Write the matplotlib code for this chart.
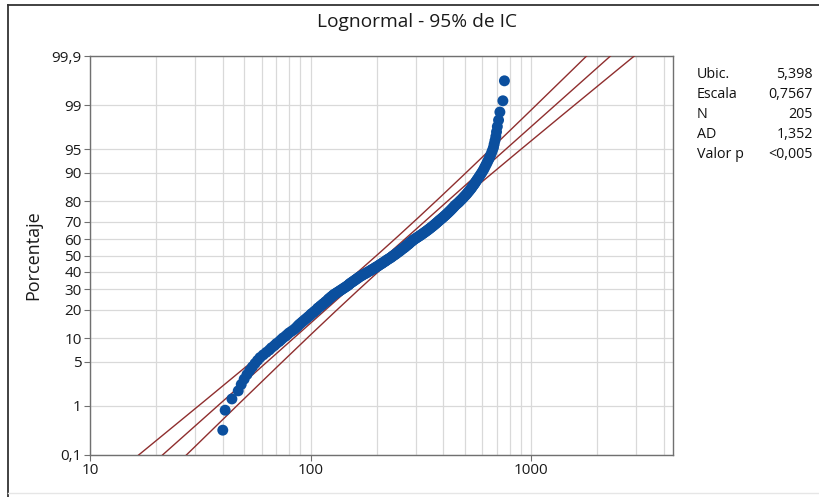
import numpy as np
import matplotlib
matplotlib.use("Agg")
import matplotlib.pyplot as plt
from matplotlib.lines import Line2D
from statistics import NormalDist

plt.rcParams['font.family'] = ['Open Sans', 'DejaVu Sans']

# sorted sample values (205 points)
datos = [
    40, 41, 44, 47, 48.5, 50, 51.5, 53, 54.5, 56,
    57.5, 59, 61, 63, 65, 66.5, 68.5, 70, 72, 73.5,
    75, 77, 78.5, 80, 82, 84, 85.5, 87, 88, 89.5,
    91, 92.5, 94, 95.5, 97, 98.5, 100, 101, 103, 104,
    106, 107, 108, 110, 111, 113, 114, 116, 117, 119,
    120, 121, 123, 124, 126, 127, 129, 131, 133, 135,
    137, 139, 141, 143, 145, 147, 149, 150, 152, 154,
    156, 158, 160, 162, 164, 166, 168, 171, 173, 176,
    179, 181, 184, 187, 189, 192, 195, 197, 200, 203,
    205, 208, 211, 213, 216, 219, 221, 224, 227, 230,
    233, 235, 238, 241, 244, 246, 249, 252, 255, 257,
    260, 263, 266, 269, 271, 274, 277, 280, 282, 285,
    288, 291, 294, 298, 302, 306, 310, 314, 318, 322,
    326, 330, 334, 338, 342, 346, 350, 354, 358, 362,
    366, 370, 374, 378, 382, 386, 391, 395, 400, 404,
    409, 413, 418, 422, 427, 431, 436, 440, 445, 449,
    454, 460, 466, 472, 477, 483, 489, 494, 500, 506,
    512, 517, 523, 529, 535, 540, 546, 552, 558, 563,
    569, 576, 582, 589, 596, 603, 610, 616, 623, 630,
    637, 645, 652, 660, 667, 675, 680, 686, 692, 697,
    703, 712, 722, 745, 757,
]

ubic = 5.398
escala = 0.7567
n = 205
ad = "1,352"
valor_p = "<0,005"

pct_ticks = [0.1, 1, 5, 10, 20, 30, 40, 50, 60, 70, 80, 90, 95, 99, 99.9]
pct_labels = ["0,1", "1", "5", "10", "20", "30", "40", "50", "60", "70",
              "80", "90", "95", "99", "99,9"]

nd = NormalDist()
rangos = np.arange(1, len(datos) + 1)
prob = (rangos - 0.3) / (len(datos) + 0.4)   # rangos medianos (Benard)
z_pts = [nd.inv_cdf(p) for p in prob]

fig = plt.figure(figsize=(8.2, 4.97), dpi=100)
ax = fig.add_axes([90 / 820, 1 - 455 / 497, 583 / 820, 399 / 497])

z_lo, z_hi = nd.inv_cdf(0.001), nd.inv_cdf(0.999)

# ajuste y bandas de confianza del 95%
zz = np.linspace(z_lo - 0.05, z_hi + 0.05, 200)
centro = ubic + zz * escala
se = escala * np.sqrt((1 + zz ** 2 / 2) / n)
rojo = '#8f2e2e'
ax.plot(np.exp(centro), zz, color=rojo, lw=1.0, zorder=3)
ax.plot(np.exp(centro - 1.96 * se), zz, color=rojo, lw=1.0, zorder=3)
ax.plot(np.exp(centro + 1.96 * se), zz, color=rojo, lw=1.0, zorder=3)

ax.scatter(datos, z_pts, s=62, color='#0b4f9e', edgecolors='none', zorder=4)

ax.set_xscale('log')
ax.set_xlim(10, 4400)
ax.set_ylim(z_lo, z_hi)

ax.set_xticks([10, 100, 1000])
ax.set_xticklabels(["10", "100", "1000"])
menores = [v * d for d in (10, 100, 1000) for v in range(2, 10) if v * d < 4400]
ax.set_xticks(menores, minor=True)
ax.set_yticks([nd.inv_cdf(p / 100) for p in pct_ticks])
ax.set_yticklabels(pct_labels)

ax.grid(True, which='both', color='#d9d9d9', lw=0.9, zorder=0)
ax.set_axisbelow(True)
ax.tick_params(axis='both', which='major', length=4, width=0.8, color='#707070',
               labelsize=11, labelcolor='#1a1a1a', pad=2)
ax.tick_params(axis='x', which='minor', length=0)
for s in ax.spines.values():
    s.set_color('#707070')
    s.set_linewidth(1.0)

fig.text(417 / 820, 1 - 22 / 497, "Lognormal - 95% de IC", ha='center', va='center',
         fontsize=13.8, color='#1a1a1a')
fig.text(33 / 820, 1 - 255 / 497, "Porcentaje", rotation=90, ha='center', va='center',
         fontsize=13, color='#1a1a1a')

# tabla de estadísticos
etiquetas = ["Ubic.", "Escala", "N", "AD", "Valor p"]
valores = [f"{ubic:.3f}".replace(".", ","), f"{escala:.4f}".replace(".", ","),
           str(n), ad, valor_p]
for k, (et, va) in enumerate(zip(etiquetas, valores)):
    yy = 1 - (75 + 20 * k) / 497
    fig.text(697 / 820, yy, et, ha='left', va='center', fontsize=10.3, color='#111111')
    fig.text(813 / 820, yy, va, ha='right', va='center', fontsize=10.3, color='#111111')

# marco exterior (el borde derecho queda fuera de la captura)
fig.add_artist(Line2D([8 / 820, 1.0], [1 - 4.5 / 497] * 2, transform=fig.transFigure,
                      color='#333333', lw=1.3))
fig.add_artist(Line2D([8 / 820] * 2, [0.0, 1 - 4.5 / 497], transform=fig.transFigure,
                      color='#333333', lw=1.3))
fig.add_artist(Line2D([8 / 820, 1.0], [1 - 493 / 497] * 2, transform=fig.transFigure,
                      color='#e6e6e6', lw=1.0))

fig.savefig("out.png", dpi=100)
